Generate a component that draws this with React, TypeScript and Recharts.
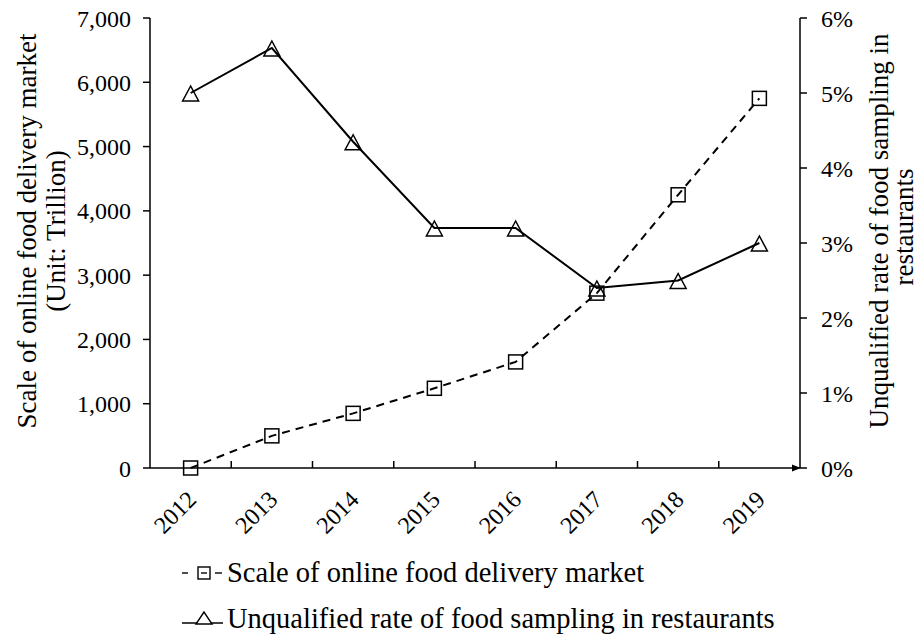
import { ComposedChart, Line, XAxis, YAxis } from 'recharts';

const years = ['2012', '2013', '2014', '2015', '2016', '2017', '2018', '2019'];
const marketScale = [0, 500, 850, 1240, 1650, 2720, 4250, 5750];
const unqualifiedRate = [5.0, 5.6, 4.35, 3.2, 3.2, 2.4, 2.5, 3.0];
const leftTicks = [0, 1000, 2000, 3000, 4000, 5000, 6000, 7000];
const rightTicks = [0, 1, 2, 3, 4, 5, 6];

const data = years.map((y, i) => ({ year: y, market: marketScale[i], rate: unqualifiedRate[i] }));

const FONT = '"Liberation Serif", "Times New Roman", serif';
const INK = '#000';

const SquareDot = (p: any) => {
  const { cx, cy } = p;
  if (cx == null || cy == null) return <g />;
  return <rect x={cx - 7} y={cy - 7} width={14} height={14} fill="none" stroke={INK} strokeWidth={1.5} />;
};

const TriangleDot = (p: any) => {
  const { cx, cy } = p;
  if (cx == null || cy == null) return <g />;
  return (
    <polygon
      points={`${cx},${cy - 7} ${cx - 8},${cy + 8} ${cx + 8},${cy + 8}`}
      fill="none"
      stroke={INK}
      strokeWidth={1.5}
    />
  );
};

const YearTick = (p: any) => {
  const { x, y, payload, index } = p;
  const off = payload.offset ?? 0;
  const tx = x + 7;
  const ty = y + 33;
  return (
    <g>
      {index < years.length - 1 && (
        <line x1={x + off} x2={x + off} y1={y - 7} y2={y} stroke={INK} strokeWidth={1.5} />
      )}
      <text
        x={tx}
        y={ty}
        transform={`rotate(-45, ${tx}, ${ty})`}
        textAnchor="end"
        fontFamily={FONT}
        fontSize={24}
        fill={INK}
      >
        {payload.value}
      </text>
    </g>
  );
};

const LeftTitle = (p: any) => {
  const { viewBox } = p;
  const cy = viewBox.y + viewBox.height / 2 - 12;
  return (
    <g fontFamily={FONT} fontSize={27} fill={INK}>
      <text x={27} y={cy} transform={`rotate(-90, 27, ${cy})`} textAnchor="middle" dominantBaseline="central">
        Scale of online food delivery market
      </text>
      <text x={56} y={cy} transform={`rotate(-90, 56, ${cy})`} textAnchor="middle" dominantBaseline="central">
        (Unit: Trillion)
      </text>
    </g>
  );
};

const RightTitle = (p: any) => {
  const { viewBox } = p;
  const cy = viewBox.y + viewBox.height / 2 - 12;
  return (
    <g fontFamily={FONT} fontSize={27} fill={INK}>
      <text x={879} y={cy} transform={`rotate(-90, 879, ${cy})`} textAnchor="middle" dominantBaseline="central">
        Unqualified rate of food sampling in
      </text>
      <text x={904} y={cy - 4} transform={`rotate(-90, 904, ${cy - 4})`} textAnchor="middle" dominantBaseline="central">
        restaurants
      </text>
    </g>
  );
};

function LegendRow({ square, label }: { square: boolean; label: string }) {
  return (
    <div style={{ display: 'flex', alignItems: 'center', height: 46 }}>
      <svg width={46} height={22} style={{ marginRight: 1 }}>
        {square ? (
          <g stroke={INK} strokeWidth={1.4} fill="none">
            <line x1={2} x2={8} y1={11} y2={11} />
            <rect x={18} y={5} width={12} height={12} />
            <line x1={21} x2={27} y1={11} y2={11} />
            <line x1={35} x2={42} y1={11} y2={11} />
          </g>
        ) : (
          <g stroke={INK} strokeWidth={1.4} fill="none">
            <line x1={2} x2={43} y1={15} y2={15} />
            <polygon points="24,4 16,16 32,16" fill="#fff" />
          </g>
        )}
      </svg>
      <span>{label}</span>
    </div>
  );
}

export default function App() {
  return (
    <div style={{ position: 'absolute', left: 0, top: 0, width: 919, height: 634, background: '#fff' }}>
      <ComposedChart width={919} height={634} data={data} margin={{ top: 18, right: 59, left: 90, bottom: 106 }}>
        <defs>
          <marker id="axisArrow" viewBox="0 0 10 10" refX={9} refY={5} markerWidth={6} markerHeight={6} orient="auto">
            <path d="M0,1 L10,5 L0,9 z" fill={INK} />
          </marker>
        </defs>
        <XAxis
          dataKey="year"
          scale="band"
          height={60}
          tickLine={false}
          tickSize={0}
          tickMargin={0}
          interval={0}
          axisLine={{ stroke: INK, strokeWidth: 1.5, markerEnd: 'url(#axisArrow)' } as any}
          tick={<YearTick />}
        />
        <YAxis
          yAxisId="left"
          width={60}
          domain={[0, 7000]}
          ticks={leftTicks}
          tickFormatter={(v) => Number(v).toLocaleString('en-US')}
          axisLine={{ stroke: INK, strokeWidth: 1.5 }}
          tickLine={{ stroke: INK, strokeWidth: 1.5 }}
          tickSize={7}
          tickMargin={12}
          tick={{ fill: INK, fontSize: 24, fontFamily: FONT }}
          label={<LeftTitle />}
        />
        <YAxis
          yAxisId="right"
          orientation="right"
          width={60}
          domain={[0, 6]}
          ticks={rightTicks}
          tickFormatter={(v) => `${v}%`}
          axisLine={{ stroke: INK, strokeWidth: 1.5 }}
          tickLine={{ stroke: INK, strokeWidth: 1.5 }}
          tickSize={7}
          tickMargin={14}
          tick={{ fill: INK, fontSize: 24, fontFamily: FONT }}
          label={<RightTitle />}
        />
        <Line
          yAxisId="left"
          dataKey="market"
          stroke={INK}
          strokeWidth={2}
          strokeDasharray="8 6"
          dot={<SquareDot />}
          activeDot={false}
          isAnimationActive={false}
        />
        <Line
          yAxisId="right"
          dataKey="rate"
          stroke={INK}
          strokeWidth={2}
          dot={<TriangleDot />}
          activeDot={false}
          isAnimationActive={false}
        />
      </ComposedChart>
      <div style={{ position: 'absolute', left: 180, top: 550, fontFamily: FONT, fontSize: 28.5, color: INK }}>
        <LegendRow square label="Scale of online food delivery market" />
        <LegendRow square={false} label="Unqualified rate of food sampling in restaurants" />
      </div>
    </div>
  );
}
